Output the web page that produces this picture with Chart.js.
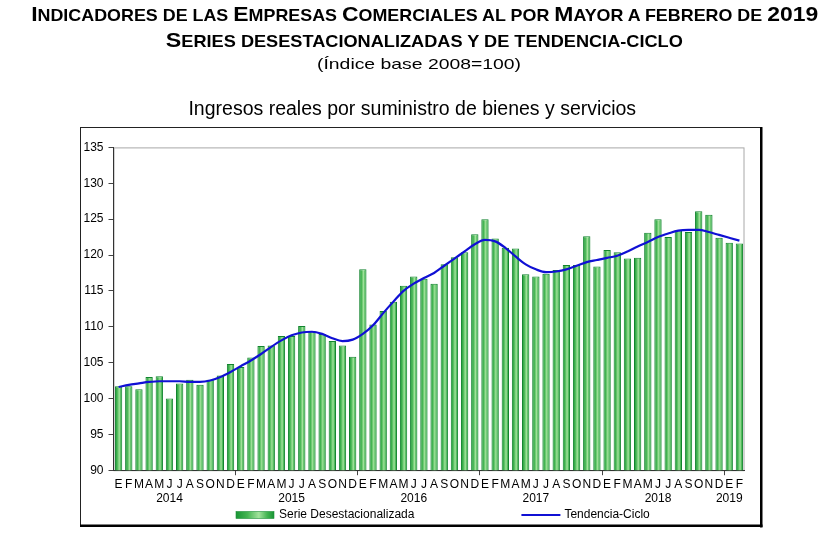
<!DOCTYPE html>
<html>
<head>
<meta charset="utf-8">
<script src="https://cdn.jsdelivr.net/npm/chart.js@4.4.1/dist/chart.umd.min.js"></script>
<style>
  html, body { margin: 0; padding: 0; background: #fff; }
  #wrap { position: relative; width: 829px; height: 543px; }
  .hdr { position: absolute; text-align: center; white-space: nowrap; color: #000; z-index: 2;
         font-family: "Liberation Sans", Arial, sans-serif; }
  .hdr > span { display: inline-block; transform-origin: center; }
  .big { font-size: 21px; line-height: 21px; font-weight: bold; }
  .big .sc { font-size: 16.4px; }
  .small { font-size: 15px; line-height: 15px; }
</style>
</head>
<body>
<div id="wrap">
  <div class="hdr big" style="left:0; width:849px; top:3px;"><span class="caps" data-w="787">Indicadores de las Empresas Comerciales al por Mayor a febrero de 2019</span></div>
  <div class="hdr big" style="left:0; width:849px; top:29px;"><span class="caps" data-w="517">Series desestacionalizadas y de tendencia-ciclo</span></div>
  <div class="hdr small" style="left:0; width:838px; top:55.5px;"><span data-w="204">(Índice base 2008=100)</span></div>
  <canvas id="chart"></canvas>
</div>
<script>
// meses y años del eje
const monthLetters = ['E','F','M','A','M','J','J','A','S','O','N','D'];
const years = ['2014','2015','2016','2017','2018','2019'];

// serie desestacionalizada, ene 2014 - feb 2019
const desest = [
  101.7, 101.7, 101.3, 103.0, 103.1, 100.0, 102.1, 102.6, 101.9, 102.6, 103.2, 104.8,
  104.4, 105.7, 107.3, 107.4, 108.7, 108.7, 110.1, 109.4, 109.0, 108.0, 107.4, 105.8,
  118.0, 110.3, 112.2, 113.5, 115.7, 117.0, 116.7, 116.0, 118.7, 119.7, 120.4, 122.9,
  125.0, 122.3, 121.0, 120.9, 117.3, 117.0, 117.4, 117.9, 118.6, 118.6, 122.6, 118.4,
  120.7, 120.4, 119.5, 119.6, 123.1, 125.0, 122.5, 123.4, 123.2, 126.1, 125.6, 122.4,
  121.7, 121.6
];

// tendencia-ciclo
const tendencia = [
  101.6, 101.9, 102.1, 102.3, 102.4, 102.4, 102.4, 102.3, 102.3, 102.5, 103.0, 103.7,
  104.5, 105.3, 106.2, 107.2, 108.1, 108.8, 109.2, 109.3, 109.0, 108.4, 108.0, 108.2,
  109.0, 110.2, 111.9, 113.5, 115.0, 116.0, 116.8, 117.5, 118.5, 119.5, 120.5, 121.5,
  122.1, 121.9, 121.0, 119.8, 118.7, 118.0, 117.6, 117.7, 118.0, 118.5, 119.0, 119.3,
  119.6, 119.9, 120.5, 121.2, 121.8, 122.5, 123.0, 123.4, 123.5, 123.5, 123.2, 122.8,
  122.4, 122.0
];

const monthLabels = [];
const yearRow = [];
years.forEach((y, k) => {
  const n = k < 5 ? 12 : 2;
  for (let m = 0; m < n; m++) {
    monthLabels.push(monthLetters[m]);
    yearRow.push(m === (n === 12 ? 5 : 0) ? y : '');
  }
});

const FONT = '"Liberation Sans", Arial, sans-serif';
const barShare = 0.72;

function greenGradient(ctx, x0, x1) {
  const g = ctx.createLinearGradient(x0, 0, x1, 0);
  g.addColorStop(0, '#189434');
  g.addColorStop(0.3, '#44b552');
  g.addColorStop(0.6, '#a2e29c');
  g.addColorStop(0.82, '#44b552');
  g.addColorStop(1, '#189434');
  return g;
}

// fondo, marco exterior y borde del área de trazado
const frame = {
  id: 'frame',
  beforeDraw(chart) {
    const ctx = chart.ctx, a = chart.chartArea;
    ctx.save();
    ctx.fillStyle = '#fff';
    ctx.fillRect(0, 0, chart.width, chart.height);
    ctx.fillStyle = '#222';
    ctx.fillRect(80, 127, 682, 1);
    ctx.fillRect(80, 127, 1, 400);
    ctx.fillStyle = '#000';
    ctx.fillRect(760, 127, 2.5, 400.5);
    ctx.fillRect(80, 524.5, 682.5, 2.5);
    ctx.strokeStyle = '#a8a8a8';
    ctx.lineWidth = 1;
    ctx.strokeRect(a.left + 0.5, a.top + 0.5, a.right - a.left - 1, a.bottom - a.top);
    ctx.restore();
  }
};

// leyenda inferior
const bottomLegend = {
  id: 'bottomLegend',
  afterDraw(chart) {
    const ctx = chart.ctx, a = chart.chartArea;
    const ds = chart.data.datasets;
    const y = chart.height - 28;
    ctx.save();
    ctx.font = '12px ' + FONT;
    ctx.textBaseline = 'middle';
    ctx.textAlign = 'left';
    let x = a.left + 122.5;
    ctx.fillStyle = greenGradient(ctx, x, x + 38);
    ctx.fillRect(x, y - 3.5, 38, 7);
    ctx.strokeStyle = '#1d8f38';
    ctx.lineWidth = 0.6;
    ctx.strokeRect(x, y - 3.5, 38, 7);
    ctx.fillStyle = '#000';
    ctx.fillText(ds[1].label, x + 43, y);
    x = x + 43 + ctx.measureText(ds[1].label).width + 107;
    ctx.strokeStyle = ds[0].borderColor;
    ctx.lineWidth = 2;
    ctx.beginPath();
    ctx.moveTo(x, y);
    ctx.lineTo(x + 39, y);
    ctx.stroke();
    ctx.fillText(ds[0].label, x + 43, y);
    ctx.restore();
  }
};

new Chart(document.getElementById('chart'), {
  type: 'bar',
  data: {
    labels: monthLabels,
    datasets: [
      {
        type: 'line',
        label: 'Tendencia-Ciclo',
        data: tendencia,
        borderColor: '#1010d4',
        borderWidth: 2.2,
        pointRadius: 0,
        tension: 0.4,
        cubicInterpolationMode: 'monotone',
        fill: false,
        order: 0
      },
      {
        label: 'Serie Desestacionalizada',
        data: desest,
        backgroundColor: (c) => {
          const xs = c.chart.scales.x;
          if (!xs || c.dataIndex === undefined) return '#4cb85a';
          const cx = xs.getPixelForValue(c.dataIndex);
          const w = (xs.right - xs.left) / desest.length * barShare;
          if (!isFinite(cx) || !isFinite(w) || w <= 0) return '#4cb85a';
          return greenGradient(c.chart.ctx, cx - w / 2, cx + w / 2);
        },
        borderColor: '#12842e',
        borderWidth: 1,
        categoryPercentage: 1,
        barPercentage: barShare,
        order: 1
      }
    ]
  },
  options: {
    responsive: true,
    maintainAspectRatio: false,
    animation: false,
    layout: {
      padding: { top: 98, bottom: 35, left: 80, right: 84.5 }
    },
    plugins: {
      legend: { display: false },
      tooltip: { enabled: false },
      title: {
        display: true,
        text: 'Ingresos reales por suministro de bienes y servicios',
        color: '#000',
        font: { family: FONT, size: 19.5, weight: 'normal', lineHeight: 1.2 },
        padding: { top: 0, bottom: 26 }
      }
    },
    scales: {
      x: {
        offset: true,
        grid: {
          offset: true,
          drawOnChartArea: false,
          tickLength: 5,
          color: (c) => (c.index > 0 && c.index % 12 === 0) ? '#444' : 'rgba(0,0,0,0)'
        },
        border: { display: true, color: '#333', width: 1 },
        ticks: {
          autoSkip: false,
          maxRotation: 0,
          minRotation: 0,
          padding: 2,
          color: '#000',
          font: { family: FONT, size: 12, lineHeight: 1.2 },
          callback: (v, i) => [monthLabels[i], yearRow[i]]
        }
      },
      y: {
        min: 90,
        max: 135,
        afterFit: (s) => { s.width = 33.5; },
        grid: { drawOnChartArea: false, tickLength: 5, color: '#444' },
        border: { display: true, color: '#333', width: 1 },
        ticks: {
          stepSize: 5,
          padding: 5,
          color: '#000',
          font: { family: FONT, size: 12 }
        }
      }
    }
  },
  plugins: [frame, bottomLegend]
});

// versalitas: minúsculas en mayúscula pequeña
document.querySelectorAll('.hdr .caps').forEach((el) => {
  const txt = el.textContent;
  el.textContent = '';
  let buf = '', small = null;
  const flush = () => {
    if (!buf) return;
    if (small) {
      const s = document.createElement('span');
      s.className = 'sc';
      s.textContent = buf.toUpperCase();
      el.appendChild(s);
    } else {
      el.appendChild(document.createTextNode(buf));
    }
    buf = '';
  };
  for (const ch of txt) {
    const isSmall = ch !== ch.toUpperCase() || ch === '-';
    if (small !== null && isSmall !== small && ch !== ' ') flush();
    if (ch !== ' ' || small === null) small = (ch === ' ') ? small : isSmall;
    buf += ch;
  }
  flush();
});

// ajustar el ancho de los títulos al original
function fitHeaders() {
  document.querySelectorAll('.hdr > span').forEach((el) => {
    el.style.transform = 'none';
    const w = parseFloat(el.dataset.w);
    const nat = el.getBoundingClientRect().width;
    if (nat > 0) el.style.transform = 'scaleX(' + (w / nat) + ')';
  });
}
fitHeaders();
if (document.fonts && document.fonts.ready) document.fonts.ready.then(fitHeaders);
</script>
</body>
</html>
